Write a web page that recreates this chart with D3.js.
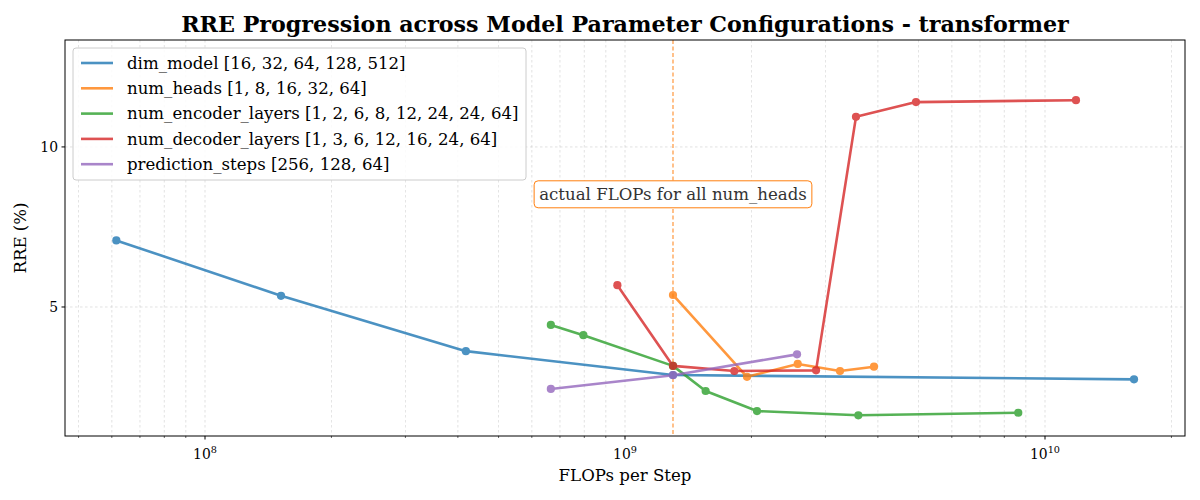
<!DOCTYPE html>
<html><head><meta charset="utf-8">
<script src="https://cdn.jsdelivr.net/npm/d3@7"></script>
<style>body{margin:0;background:#fff}svg{display:block}text{font-family:"DejaVu Serif",serif}</style>
</head><body><svg id="c" width="1200" height="500"></svg>
<script>
const seriesNames = ["dim_model [16, 32, 64, 128, 512]","num_heads [1, 8, 16, 32, 64]","num_encoder_layers [1, 2, 6, 8, 12, 24, 24, 64]","num_decoder_layers [1, 3, 6, 12, 16, 24, 64]","prediction_steps [256, 128, 64]"];
const colors = ["#1f77b4","#ff7f0e","#2ca02c","#d62728","#9467bd"];
const dimModelX = [6.15e7,1.517e8,4.18e8,1.301e9,1.629e10];
const dimModelY = [7.08,5.35,3.62,2.875,2.74];
const numHeadsX = [1.301e9,1.952e9,2.578e9,3.25e9,3.916e9];
const numHeadsY = [5.375,2.82,3.22,3.0,3.135];
const encoderX = [6.66e8,7.96e8,1.301e9,1.556e9,2.062e9,3.594e9,8.637e9];
const encoderY = [4.44,4.12,3.16,2.375,1.75,1.616,1.697];
const decoderX = [9.59e8,1.301e9,1.821e9,2.85e9,3.548e9,4.93e9,1.185e10];
const decoderY = [5.68,3.16,3.0,3.02,10.94,11.40,11.46];
const predX = [6.66e8,1.301e9,2.568e9];
const predY = [2.44,2.87,3.52];
const vlineX = 1.301e9;
const annotText = "actual FLOPs for all num_heads";
const annotY = 8.52;
const yTicks = [5,10];
const xMajor = [1e8,1e9,1e10];
const xExp = [8,9,10];

const allX = [dimModelX,numHeadsX,encoderX,decoderX,predX];
const allY = [dimModelY,numHeadsY,encoderY,decoderY,predY];

const L=65,R=1185,T=40,B=436;
const svg=d3.select("#c");
const x=d3.scaleLog().domain([Math.pow(10,7+2/3),Math.pow(10,10+1/3)]).range([L,R]);
const y=d3.scaleLinear().domain([0.97,13.34]).range([B,T]);

const minor=[];
for(let e=7;e<=10;e++)for(let k=2;k<=9;k++){const v=k*Math.pow(10,e);if(v>=x.domain()[0]&&v<=x.domain()[1])minor.push(v);}
const g=svg.append("g");
g.selectAll(".gx").data(xMajor.concat(minor)).join("line").attr("x1",d=>x(d)).attr("x2",d=>x(d)).attr("y1",T).attr("y2",B)
 .attr("stroke","#b0b0b0").attr("stroke-width",0.6).attr("stroke-dasharray","2.5,2.5").attr("opacity",0.6);
g.selectAll(".gy").data(yTicks).join("line").attr("x1",L).attr("x2",R).attr("y1",d=>y(d)).attr("y2",d=>y(d))
 .attr("stroke","#b0b0b0").attr("stroke-width",0.6).attr("stroke-dasharray","2.5,2.5").attr("opacity",0.6);

svg.append("line").attr("x1",x(vlineX)).attr("x2",x(vlineX)).attr("y1",T).attr("y2",B)
 .attr("stroke","#ff7f0e").attr("stroke-width",1.2).attr("stroke-dasharray","4,2.5").attr("opacity",0.8);

const line=d3.line().x(d=>x(d[0])).y(d=>y(d[1]));
allX.forEach((xs,i)=>{
  const pts=xs.map((v,j)=>[v,allY[i][j]]);
  const sg=svg.append("g").attr("opacity",0.8);
  sg.append("path").datum(pts).attr("d",line).attr("fill","none").attr("stroke",colors[i]).attr("stroke-width",2.6).attr("stroke-linejoin","round");
  sg.selectAll("circle").data(pts).join("circle").attr("cx",d=>x(d[0])).attr("cy",d=>y(d[1])).attr("r",4.1).attr("fill",colors[i]);
});

const at=svg.append("text").attr("x",x(vlineX)).attr("y",y(annotY)).attr("text-anchor","middle").attr("dominant-baseline","central")
 .attr("font-size",16.6).attr("fill","#333").text(annotText);
const bb=at.node().getBBox();
svg.insert("rect","text").attr("x",bb.x-5).attr("y",y(annotY)-13.5).attr("width",bb.width+10).attr("height",27).attr("rx",4)
 .attr("fill","#fff").attr("stroke","#ff7f0e").attr("stroke-width",1);

svg.append("rect").attr("x",L).attr("y",T).attr("width",R-L).attr("height",B-T).attr("fill","none").attr("stroke","#000").attr("stroke-width",1);
svg.selectAll(".xt").data(xMajor).join("line").attr("x1",d=>x(d)).attr("x2",d=>x(d)).attr("y1",B).attr("y2",B+3.5).attr("stroke","#000");
svg.selectAll(".xm").data(minor).join("line").attr("x1",d=>x(d)).attr("x2",d=>x(d)).attr("y1",B).attr("y2",B+2).attr("stroke","#000").attr("stroke-width",0.6);
xMajor.forEach((v,i)=>{
  const t=svg.append("text").attr("x",x(v)).attr("y",B+23).attr("text-anchor","middle").attr("font-size",13.9).attr("fill","#000");
  t.append("tspan").text("10");
  t.append("tspan").attr("dy",-6).attr("font-size",9.7).text(xExp[i]);
});
svg.selectAll(".yt").data(yTicks).join("line").attr("x1",L-3.5).attr("x2",L).attr("y1",d=>y(d)).attr("y2",d=>y(d)).attr("stroke","#000");
svg.selectAll(".yl").data(yTicks).join("text").attr("x",L-7).attr("y",d=>y(d)).attr("dy","0.35em").attr("text-anchor","end")
 .attr("font-size",13.9).text(d=>d);

svg.append("text").attr("x",(L+R)/2).attr("y",481).attr("text-anchor","middle").attr("font-size",16.6).text("FLOPs per Step");
svg.append("text").attr("transform",`translate(26,${(T+B)/2}) rotate(-90)`).attr("text-anchor","middle").attr("font-size",16.6).text("RRE (%)");
svg.append("text").attr("x",(L+R)/2).attr("y",32).attr("text-anchor","middle").attr("font-size",22.2).attr("font-weight","bold").text("RRE Progression across Model Parameter Configurations - transformer");

const lg=svg.append("g");
lg.append("rect").attr("x",73).attr("y",48).attr("width",453).attr("height",132).attr("rx",3).attr("fill","#fff").attr("fill-opacity",0.85).attr("stroke","#ccc");
seriesNames.forEach((n,i)=>{
  const yy=63+i*25.3;
  lg.append("line").attr("x1",81).attr("x2",113).attr("y1",yy).attr("y2",yy).attr("stroke",colors[i]).attr("stroke-width",2.6).attr("opacity",0.8);
  lg.append("text").attr("x",127).attr("y",yy).attr("dy","0.35em").attr("font-size",16.6).text(n);
});
</script></body></html>
